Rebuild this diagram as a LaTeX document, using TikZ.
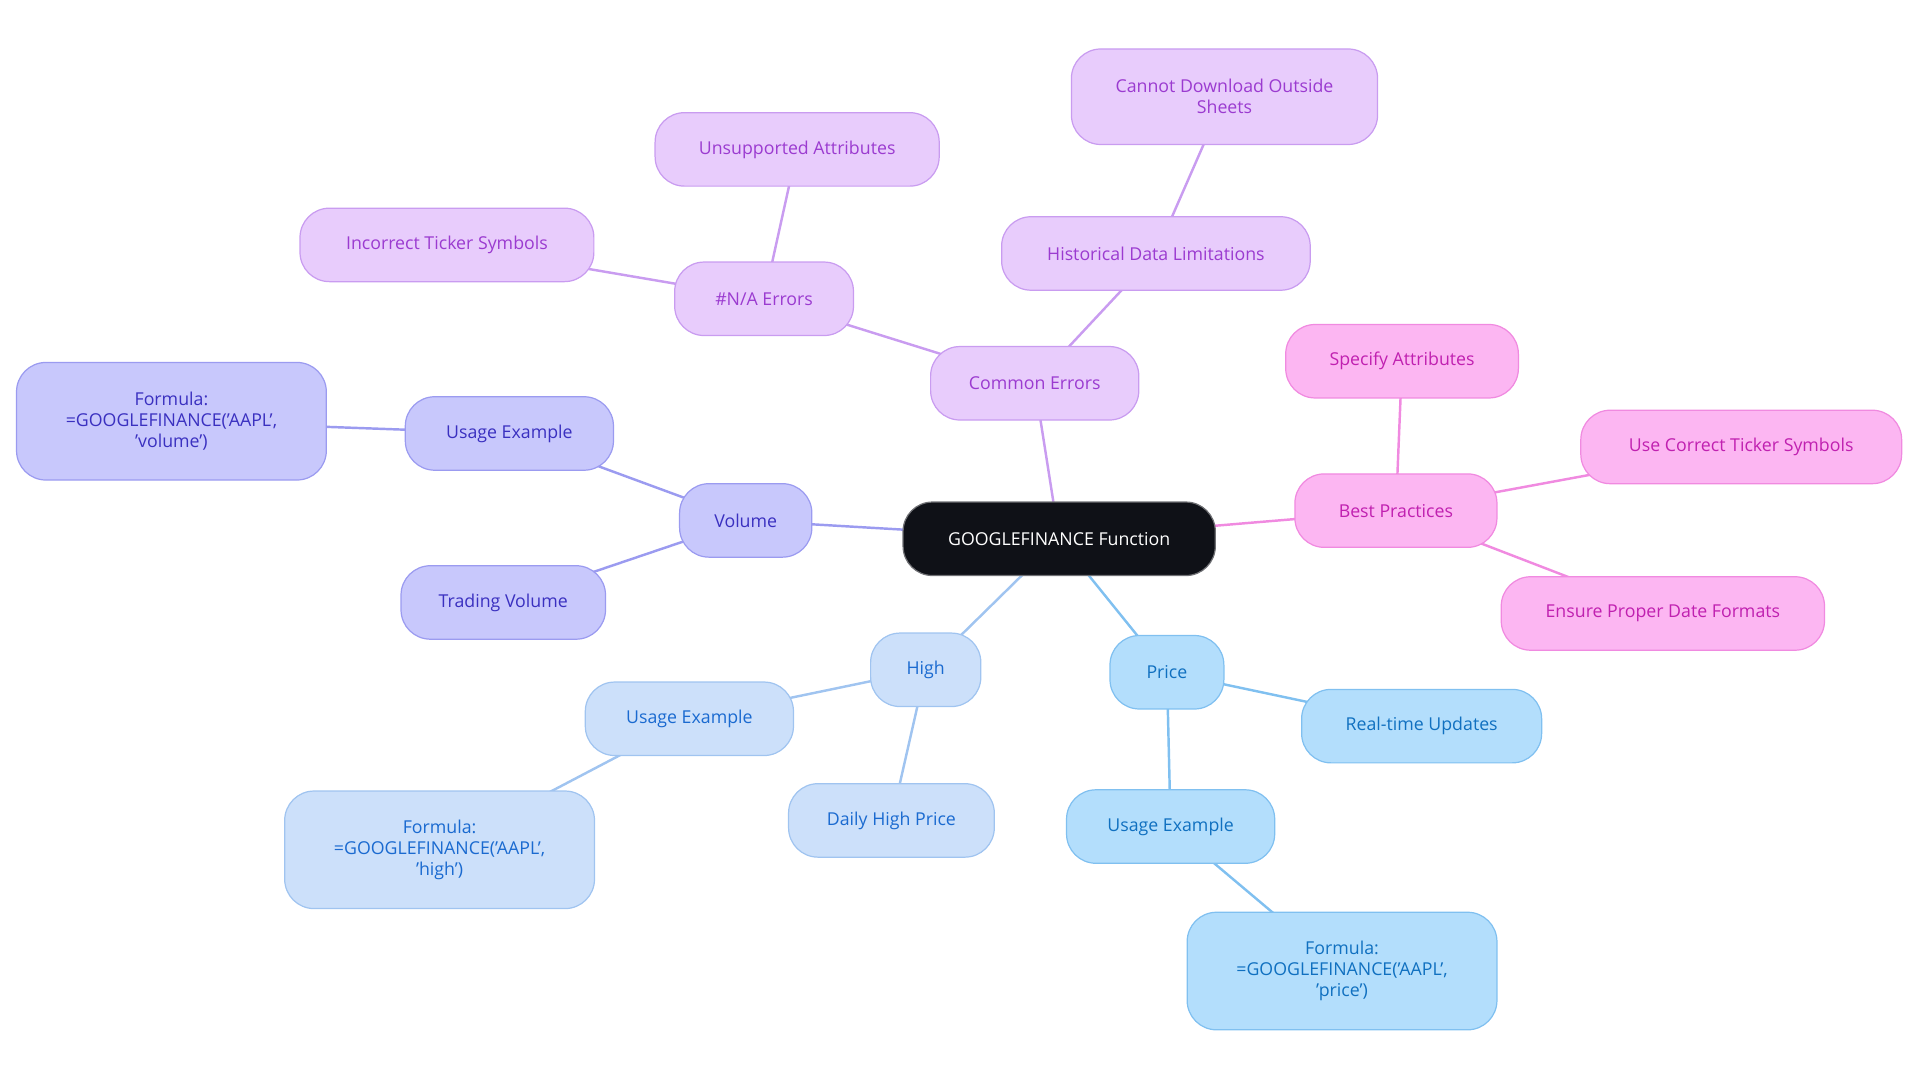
\documentclass[tikz,border=0pt]{standalone}
\usepackage{fontspec}
\setmainfont{Open Sans}
\definecolor{pF}{HTML}{E8CCFC}\definecolor{pB}{HTML}{C99CF0}\definecolor{pT}{HTML}{9B3BD0}
\definecolor{kF}{HTML}{FCB6F2}\definecolor{kB}{HTML}{F08AE0}\definecolor{kT}{HTML}{C020B0}
\definecolor{vF}{HTML}{C8C8FC}\definecolor{vB}{HTML}{9B9BF0}\definecolor{vT}{HTML}{3A30C0}
\definecolor{hF}{HTML}{CCE0FA}\definecolor{hB}{HTML}{A0C4F0}\definecolor{hT}{HTML}{1A6AD0}
\definecolor{cF}{HTML}{B3DEFC}\definecolor{cB}{HTML}{80C0F0}\definecolor{cT}{HTML}{1070C0}
\definecolor{rootF}{HTML}{0F1117}
\tikzset{
 bx/.style={draw, rounded corners=24pt, line width=1pt, align=center, inner sep=0pt, font=\fontsize{14.5}{17}\selectfont, minimum height=60pt},
 pu/.style={bx, fill=pF, draw=pB, text=pT},
 pk/.style={bx, fill=kF, draw=kB, text=kT},
 vi/.style={bx, fill=vF, draw=vB, text=vT},
 hi/.style={bx, fill=hF, draw=hB, text=hT},
 pr/.style={bx, fill=cF, draw=cB, text=cT},
 ln/.style={line width=2pt}
}
\begin{document}
\begin{tikzpicture}[x=1pt,y=-1pt]
\useasboundingbox (0,0) rectangle (1568,884);
% edges
\draw[ln,pB] (865,440)--(845,313) (845,313)--(624,244) (624,244)--(651,122) (624,244)--(365,200) (845,313)--(944,207) (944,207)--(1000,79);
\draw[ln,kB] (865,440)--(1140,417) (1140,417)--(1145,295) (1140,417)--(1422,365) (1140,417)--(1358,501);
\draw[ln,vB] (865,440)--(609,425) (609,425)--(416,354) (416,354)--(140,344) (609,425)--(411,492);
\draw[ln,hB] (865,440)--(756,547) (756,547)--(563,587) (563,587)--(359,694) (756,547)--(728,670);
\draw[ln,cB] (865,440)--(953,549) (953,549)--(1161,593) (953,549)--(956,675) (956,675)--(1096,793);
% nodes
\node[bx, fill=rootF, draw=rootF!60, text=white, minimum width=255pt] (root) at (865,440) {GOOGLEFINANCE Function};
\node[pu, minimum width=170pt] (ce) at (845,313) {Common Errors};
\node[pu, minimum width=146pt] (na) at (624,244) {\#N/A Errors};
\node[pu, minimum width=232pt] (ua) at (651,122) {Unsupported Attributes};
\node[pu, minimum width=240pt] (it) at (365,200) {Incorrect Ticker Symbols};
\node[pu, minimum width=252pt] (hd) at (944,207) {Historical Data Limitations};
\node[pu, minimum width=250pt, minimum height=78pt] (cd) at (1000,79) {Cannot Download Outside\\Sheets};
\node[pk, minimum width=165pt] (bp) at (1140,417) {Best Practices};
\node[pk, minimum width=190pt] (sa) at (1145,295) {Specify Attributes};
\node[pk, minimum width=262pt] (uc) at (1422,365) {Use Correct Ticker Symbols};
\node[pk, minimum width=264pt] (ed) at (1358,501) {Ensure Proper Date Formats};
\node[vi, minimum width=108pt] (vo) at (609,425) {Volume};
\node[vi, minimum width=170pt] (vu) at (416,354) {Usage Example};
\node[vi, minimum width=253pt, minimum height=96pt] (vf) at (140,344) {Formula:\\=GOOGLEFINANCE('AAPL',\\'volume')};
\node[vi, minimum width=167pt] (tv) at (411,492) {Trading Volume};
\node[hi, minimum width=90pt] (hi) at (756,547) {High};
\node[hi, minimum width=170pt] (hu) at (563,587) {Usage Example};
\node[hi, minimum width=253pt, minimum height=96pt] (hf) at (359,694) {Formula:\\=GOOGLEFINANCE('AAPL',\\'high')};
\node[hi, minimum width=168pt] (dh) at (728,670) {Daily High Price};
\node[pr, minimum width=93pt] (pp) at (953,549) {Price};
\node[pr, minimum width=196pt] (ru) at (1161,593) {Real-time Updates};
\node[pr, minimum width=170pt] (pu) at (956,675) {Usage Example};
\node[pr, minimum width=253pt, minimum height=96pt] (pf) at (1096,793) {Formula:\\=GOOGLEFINANCE('AAPL',\\'price')};
\end{tikzpicture}
\end{document}
